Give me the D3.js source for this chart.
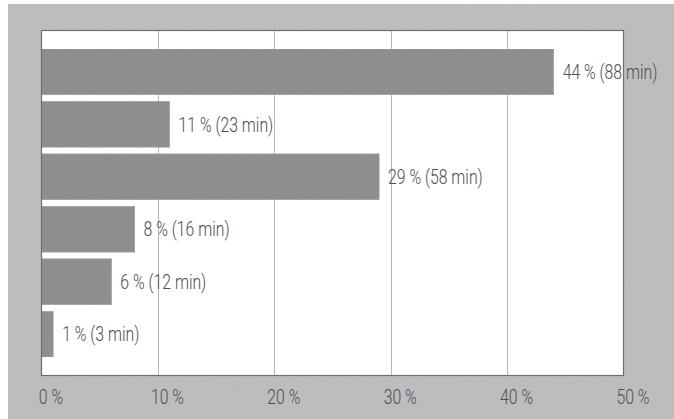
<!DOCTYPE html>
<html>
<head>
<meta charset="utf-8">
<script src="https://cdn.jsdelivr.net/npm/d3@7"></script>
<style>
  html, body { margin: 0; padding: 0; background: #fff; }
  svg { display: block; }
  text { font-family: "Roboto", "Liberation Sans", sans-serif; font-weight: 300; }
</style>
</head>
<body>
<svg id="chart" width="674" height="419"></svg>
<script>
const categories = ["A", "B", "C", "D", "E", "F"];
const percents = [44, 11, 29, 8, 6, 1];
const minutes = [88, 23, 58, 16, 12, 3];
const tickValues = [0, 10, 20, 30, 40, 50];
const tickLabels = ["0 %", "10 %", "20 %", "30 %", "40 %", "50 %"];

const W = 674, H = 419;
const frame = {x: 8, y: 4};
const plot = {left: 41.5, right: 623.5, top: 30.5, bottom: 375.5};
const squeeze = 0.79;
const fontSize = 20;

const svg = d3.select("#chart");

// grain for halftone look
const defs = svg.append("defs");
const filt = defs.append("filter").attr("id", "grain").attr("x", 0).attr("y", 0).attr("width", "100%").attr("height", "100%");
filt.append("feTurbulence").attr("type", "fractalNoise").attr("baseFrequency", 0.9).attr("numOctaves", 1).attr("seed", 3).attr("result", "n");
filt.append("feColorMatrix").attr("in", "n").attr("type", "matrix")
  .attr("values", "0 0 0 0 0  0 0 0 0 0  0 0 0 0 0  0 0 0 0.12 0").attr("result", "a");
filt.append("feComposite").attr("in", "a").attr("in2", "SourceGraphic").attr("operator", "in").attr("result", "g");
filt.append("feMerge").selectAll("feMergeNode").data(["SourceGraphic", "g"]).enter()
  .append("feMergeNode").attr("in", d => d);

svg.append("rect").attr("x", frame.x).attr("y", frame.y)
  .attr("width", W - frame.x).attr("height", H - frame.y)
  .attr("fill", "#c2c2c2").attr("filter", "url(#grain)");

svg.append("rect").attr("x", plot.left).attr("y", plot.top)
  .attr("width", plot.right - plot.left).attr("height", plot.bottom - plot.top)
  .attr("fill", "#ffffff");

const x = d3.scaleLinear().domain([0, 50]).range([plot.left, plot.right]);
const y = d3.scaleBand().domain(categories).range([45.6, 360.4]).paddingInner(0.13).paddingOuter(0.065);

// gridlines
svg.append("g").selectAll("line").data(tickValues.slice(1, -1)).enter().append("line")
  .attr("x1", d => Math.round(x(d)) + 0.5).attr("x2", d => Math.round(x(d)) + 0.5)
  .attr("y1", plot.top).attr("y2", plot.bottom)
  .attr("stroke", "#b8b8b8").attr("stroke-width", 1);

// bars
const data = categories.map((c, i) => ({c, p: percents[i], m: minutes[i]}));
svg.append("g").selectAll("rect").data(data).enter().append("rect")
  .attr("x", x(0)).attr("y", d => y(d.c))
  .attr("width", d => x(d.p) - x(0)).attr("height", y.bandwidth())
  .attr("fill", "#939393").attr("stroke", "#a4a4a4").attr("stroke-width", 0.8)
  .attr("filter", "url(#grain)");

// plot border
svg.append("rect").attr("x", plot.left).attr("y", plot.top)
  .attr("width", plot.right - plot.left).attr("height", plot.bottom - plot.top)
  .attr("fill", "none").attr("stroke", "#6e6e6e").attr("stroke-width", 1.2);

// value labels
svg.append("g").selectAll("text").data(data).enter().append("text")
  .attr("transform", d => `translate(${x(d.p) + 9},${y(d.c) + y.bandwidth() / 2}) scale(${squeeze},1)`)
  .attr("dy", "0.36em")
  .attr("font-size", fontSize).attr("fill", "#4e4e4e")
  .text(d => `${d.p} % (${d.m} min)`);

// x axis labels
const axis = d3.axisBottom(x).tickValues(tickValues).tickSize(0).tickPadding(0)
  .tickFormat((d, i) => tickLabels[i]);
const ax = svg.append("g").attr("transform", `translate(9, 404)`).call(axis);
ax.select(".domain").remove();
ax.selectAll("text").attr("font-size", fontSize).attr("fill", "#4e4e4e")
  .attr("y", 0).attr("dy", 0)
  .attr("transform", `scale(${squeeze},1)`)
  .style("font-family", '"Roboto", "Liberation Sans", sans-serif')
  .style("font-weight", 300);
</script>
</body>
</html>
